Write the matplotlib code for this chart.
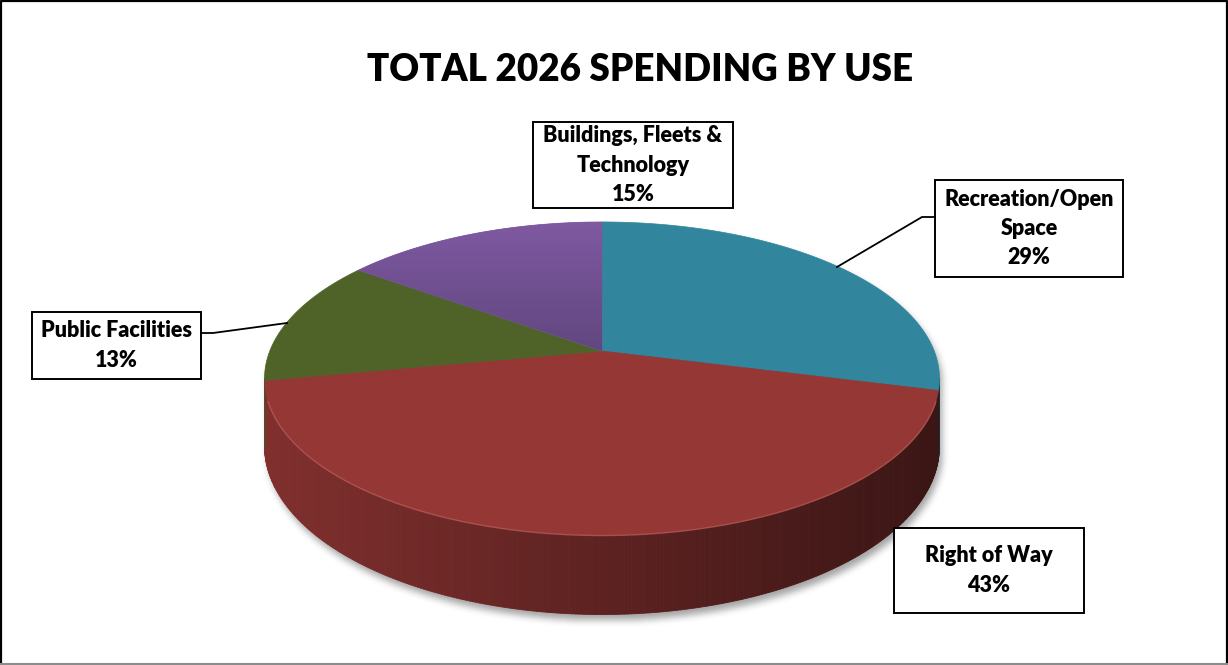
import numpy as np
import matplotlib
matplotlib.use("Agg")
import matplotlib.pyplot as plt
from matplotlib.patches import Polygon, Rectangle
from matplotlib.collections import PolyCollection
from matplotlib.path import Path

# ---- data -------------------------------------------------------------
categories = ["Recreation/Open Space", "Right of Way",
              "Public Facilities", "Buildings, Fleets & Technology"]
label_lines = [["Recreation/Open", "Space"], ["Right of Way"],
               ["Public Facilities"], ["Buildings, Fleets &", "Technology"]]
shares = [29, 43, 13, 15]
top_colors = ["#31859C", "#953735", "#4F6228", "#7A5AA0"]
title = "TOTAL 2026 SPENDING BY USE"

# ---- figure in pixel coordinates ---------------------------------------
W, H = 1228, 665
plt.rcParams["font.family"] = ["Lato", "DejaVu Sans"]
fig = plt.figure(figsize=(W / 100, H / 100), dpi=100)
ax = fig.add_axes([0, 0, 1, 1])
ax.set_xlim(0, W)
ax.set_ylim(H, 0)
ax.axis("off")

# perspective disc: angle measured clockwise from the far (top) point
CX, CY = 602.0, 351.0
A, B, P, D = 332.2, 151.7, 0.1757, 65.5


def rim(theta_deg, drop=0.0):
    t = np.radians(np.asarray(theta_deg, dtype=float))
    u, v = np.sin(t), np.cos(t)
    w = 1 + P * v
    return CX + A * u / w, CY - B * v / w + drop / w


sil = np.degrees(np.arccos(-P))          # right silhouette angle
sil_r, sil_l = sil, 360 - sil

total = float(sum(shares))
bounds = np.concatenate([[0], np.cumsum(shares)]) / total * 360.0

# ---- soft shadow under the disc ----------------------------------------
th_back = np.linspace(-sil, sil, 300)
th_front = np.linspace(sil, 360 - sil, 300)
bx, by = rim(th_back)
fx, fy = rim(th_front, D)
sil_pts = np.column_stack([np.concatenate([bx, fx]), np.concatenate([by, fy])])
sil_pts = sil_pts + np.array([3.0, 6.0])
gx, gy = np.meshgrid(np.arange(W) + 0.5, np.arange(H) + 0.5)
mask = Path(sil_pts).contains_points(np.column_stack([gx.ravel(), gy.ravel()]))
mask = mask.reshape(H, W).astype(float)


def box_blur(img, r, axis):
    pad = [(0, 0), (0, 0)]
    pad[axis] = (r + 1, r)
    c = np.cumsum(np.pad(img, pad, mode="constant"), axis=axis)
    if axis == 0:
        return (c[2 * r + 1:, :] - c[:-2 * r - 1, :]) / (2 * r + 1)
    return (c[:, 2 * r + 1:] - c[:, :-2 * r - 1]) / (2 * r + 1)


for _ in range(3):
    mask = box_blur(mask, 3, 0)
    mask = box_blur(mask, 3, 1)
shadow = np.zeros((H, W, 4))
shadow[..., :3] = 0.35
shadow[..., 3] = mask * 0.55
ax.imshow(shadow, extent=(0, W, H, 0), zorder=1, interpolation="bilinear")
ax.set_xlim(0, W)
ax.set_ylim(H, 0)


# ---- side walls (front half only) --------------------------------------
def side_shade(rgb, x):
    f = np.interp(x, [265, 940], [0.86, 0.39])
    return np.clip(np.array(rgb) * f, 0, 1)


polys, cols = [], []
for i, col in enumerate(top_colors):
    a0, a1 = max(bounds[i], sil_r), min(bounds[i + 1], sil_l)
    if a1 <= a0:
        continue
    th = np.linspace(a0, a1, max(int((a1 - a0) * 2), 2))
    rgb = matplotlib.colors.to_rgb(col)
    for t0, t1 in zip(th[:-1], th[1:]):
        x0, y0 = rim(t0)
        x1, y1 = rim(t1)
        x2, y2 = rim(t1, D)
        x3, y3 = rim(t0, D)
        polys.append([(x0, y0), (x1, y1), (x2, y2), (x3, y3)])
        cols.append(side_shade(rgb, (x0 + x1) / 2))
ax.add_collection(PolyCollection(polys, facecolors=cols, edgecolors=cols,
                                 linewidths=0.6, zorder=2))

# ---- top faces ---------------------------------------------------------
patches = []
for i, col in enumerate(top_colors):
    th = np.linspace(bounds[i], bounds[i + 1], int(shares[i] * 8) + 2)
    x, y = rim(th)
    pts = np.column_stack([np.concatenate([[CX], x]), np.concatenate([[CY], y])])
    p = Polygon(pts, closed=True, facecolor=col, edgecolor=col,
                linewidth=0.5, zorder=3)
    ax.add_patch(p)
    patches.append(p)

# purple slice carries a vertical light-to-dark gradient
grad = np.linspace(0, 1, 200)[:, None]
c_top = np.array([128, 90, 163]) / 255
c_bot = np.array([96, 70, 126]) / 255
g_img = c_top[None, None, :] * (1 - grad[..., None]) + c_bot[None, None, :] * grad[..., None]
g_img = np.repeat(g_img, 2, axis=1)
im = ax.imshow(g_img, extent=(340, 610, 355, 218), zorder=3.5,
               interpolation="bilinear", aspect="auto")
im.set_clip_path(patches[3])
ax.set_xlim(0, W)
ax.set_ylim(H, 0)

# light bevel along the front rim of the top face
th = np.linspace(sil_r + 8, sil_l - 8, 300)
x, y = rim(th)
ax.plot(x, y + 0.5, color="#b55a57", lw=1.0, alpha=0.8, zorder=4,
        solid_capstyle="round")

# ---- title -------------------------------------------------------------
ax.text(640, 70, title, ha="center", va="center", fontsize=26.5,
        fontweight="heavy", color="black", zorder=6)

# ---- data labels -------------------------------------------------------
boxes = {  # x0, y0, x1, y1
    0: (935, 180, 1123, 277),
    1: (894, 528, 1084, 613),
    2: (32, 312, 201, 379),
    3: (533, 122, 733, 208),
}
leaders = {
    0: [(935, 217), (922, 217), (837, 267)],
    2: [(201, 333), (213, 333), (287, 323)],
}
for i in range(len(categories)):
    x0, y0, x1, y1 = boxes[i]
    ax.add_patch(Rectangle((x0, y0), x1 - x0, y1 - y0, facecolor="white",
                           edgecolor="black", linewidth=1.4, zorder=5))
    lines = label_lines[i] + [f"{shares[i] / total * 100:.0f}%"]
    step = 29.5
    cy = (y0 + y1) / 2
    for k, s in enumerate(lines):
        yy = cy + (k - (len(lines) - 1) / 2) * step
        ax.text((x0 + x1) / 2, yy, s, ha="center", va="center",
                fontsize=15.5, fontweight="heavy", color="black", zorder=6)
    if i in leaders:
        lx, ly = zip(*leaders[i])
        ax.plot(lx, ly, color="black", lw=1.3, zorder=5)

# ---- outer frame -------------------------------------------------------
ax.plot([1, 1, W - 1, W - 1], [H - 2, 1, 1, H - 2], color="black", lw=1.6,
        zorder=7)
ax.plot([0, W], [H - 1.5, H - 1.5], color="#8c8c8c", lw=1.5, zorder=7)

fig.savefig("out.png", dpi=100)
